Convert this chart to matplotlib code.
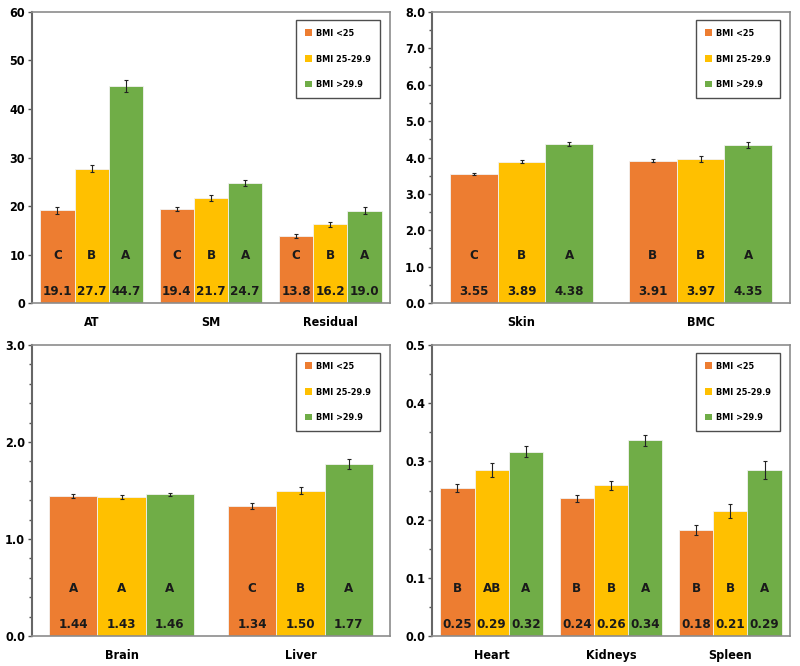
import matplotlib
matplotlib.use("Agg")
import matplotlib.pyplot as plt
import numpy as np
from matplotlib.ticker import MultipleLocator, FormatStrFormatter
from matplotlib.patches import Patch

plt.rcParams["font.family"] = ["DejaVu Sans"]
plt.rcParams["font.stretch"] = "condensed"
plt.rcParams["font.weight"] = "bold"

groups = ["BMI <25", "BMI 25-29.9", "BMI >29.9"]
colors = ["#ED7D31", "#FFC000", "#70AD47"]

# panel 1: AT, SM, Residual
cats1 = ["AT", "SM", "Residual"]
vals1 = [[19.1, 19.4, 13.8], [27.7, 21.7, 16.2], [44.7, 24.7, 19.0]]
errs1 = [[0.8, 0.4, 0.4], [0.7, 0.6, 0.5], [1.2, 0.6, 0.7]]
lbls1 = [["19.1", "19.4", "13.8"], ["27.7", "21.7", "16.2"], ["44.7", "24.7", "19.0"]]
lets1 = [["C", "C", "C"], ["B", "B", "B"], ["A", "A", "A"]]

# panel 2: Skin, BMC
cats2 = ["Skin", "BMC"]
vals2 = [[3.55, 3.91], [3.89, 3.97], [4.38, 4.35]]
errs2 = [[0.03, 0.04], [0.04, 0.08], [0.06, 0.08]]
lbls2 = [["3.55", "3.91"], ["3.89", "3.97"], ["4.38", "4.35"]]
lets2 = [["C", "B"], ["B", "B"], ["A", "A"]]

# panel 3: Brain, Liver
cats3 = ["Brain", "Liver"]
vals3 = [[1.44, 1.34], [1.43, 1.50], [1.46, 1.77]]
errs3 = [[0.02, 0.03], [0.02, 0.04], [0.015, 0.05]]
lbls3 = [["1.44", "1.34"], ["1.43", "1.50"], ["1.46", "1.77"]]
lets3 = [["A", "C"], ["A", "B"], ["A", "A"]]

# panel 4: Heart, Kidneys, Spleen
cats4 = ["Heart", "Kidneys", "Spleen"]
vals4 = [[0.254, 0.237, 0.182], [0.285, 0.259, 0.214], [0.317, 0.336, 0.285]]
errs4 = [[0.007, 0.006, 0.008], [0.012, 0.008, 0.012], [0.010, 0.010, 0.015]]
lbls4 = [["0.25", "0.24", "0.18"], ["0.29", "0.26", "0.21"], ["0.32", "0.34", "0.29"]]
lets4 = [["B", "B", "B"], ["AB", "B", "B"], ["A", "A", "A"]]


def panel(ax, cats, vals, errs, lbls, lets, ymax, major, minor, fmt, gw):
    n = len(cats)
    x = np.arange(n)
    bw = gw / 3
    for i in range(3):
        xs = x + (i - 1) * bw
        ax.bar(xs, vals[i], bw, color=colors[i], edgecolor="#f2f2f2", linewidth=0.6,
               yerr=errs[i], error_kw=dict(ecolor="#222222", elinewidth=0.8, capsize=1.5, capthick=0.8),
               label=groups[i], zorder=2)
        for j in range(n):
            ax.text(xs[j], ymax * 0.165, lets[i][j], ha="center", va="center",
                    fontsize=9.5, fontweight="bold", color="#1a1a1a", zorder=3)
            ax.text(xs[j], ymax * 0.04, lbls[i][j], ha="center", va="center",
                    fontsize=9.5, fontweight="bold", color="#1a1a1a", zorder=3)
    ax.set_xlim(-0.5, n - 0.5)
    ax.set_ylim(0, ymax)
    ax.set_xticks(x, cats)
    ax.tick_params(axis="x", length=0, pad=9, labelsize=9)
    ax.tick_params(axis="y", direction="out", length=3, width=1, labelsize=9, pad=2, color="#555555")
    ax.tick_params(axis="y", which="minor", direction="out", length=2, width=1, color="#555555")
    ax.yaxis.set_major_locator(MultipleLocator(major))
    if minor:
        ax.yaxis.set_minor_locator(MultipleLocator(minor))
    ax.yaxis.set_major_formatter(FormatStrFormatter(fmt))
    for s in ["top", "right", "bottom"]:
        ax.spines[s].set_color("#8c8c8c")
        ax.spines[s].set_linewidth(1.2)
    ax.spines["left"].set_color("#666666")
    ax.spines["left"].set_linewidth(1.5)
    handles = [Patch(facecolor=c) for c in colors]
    leg = ax.legend(handles, groups, loc="upper right", bbox_to_anchor=(0.973, 0.973),
                    fontsize=6.5, frameon=True, fancybox=False, edgecolor="#222222",
                    handlelength=0.75, handleheight=0.75, handletextpad=0.5,
                    labelspacing=1.85, borderpad=1.0, borderaxespad=0)
    leg.get_frame().set_linewidth(1.0)


fig = plt.figure(figsize=(8, 6.66), dpi=100)
ax1 = fig.add_axes([0.04, 0.545, 0.4475, 0.437])
ax2 = fig.add_axes([0.54, 0.545, 0.4475, 0.437])
ax3 = fig.add_axes([0.04, 0.045, 0.4475, 0.437])
ax4 = fig.add_axes([0.54, 0.045, 0.4475, 0.437])

panel(ax1, cats1, vals1, errs1, lbls1, lets1, 60, 10, None, "%d", 0.86)
panel(ax2, cats2, vals2, errs2, lbls2, lets2, 8, 1, 0.5, "%.1f", 0.80)
panel(ax3, cats3, vals3, errs3, lbls3, lets3, 3, 1, 0.2, "%.1f", 0.81)
panel(ax4, cats4, vals4, errs4, lbls4, lets4, 0.5, 0.1, 0.05, "%.1f", 0.86)

fig.savefig("out.png", dpi=100)
